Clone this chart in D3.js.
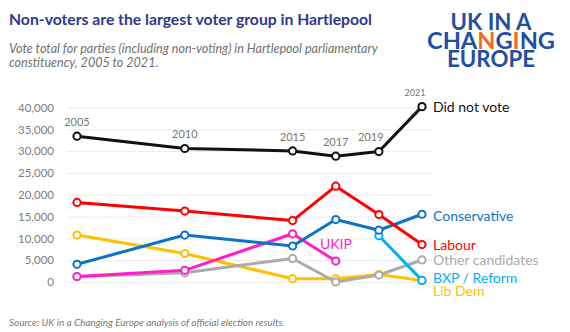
<!DOCTYPE html>
<html>
<head>
<meta charset="utf-8">
<script src="https://cdn.jsdelivr.net/npm/d3@7/dist/d3.min.js"></script>
<style>
  html, body { margin: 0; padding: 0; background: #fff; }
  svg { display: block; font-family: Lato, "Open Sans", sans-serif; }
</style>
</head>
<body>
<svg id="chart" width="570" height="332"></svg>
<script>
// Election years and vote totals, Hartlepool constituency
const years = [2005, 2010, 2015, 2017, 2019, 2021];
const didNotVote   = [33430, 30600, 30050, 28850, 29900, 40200];
const labour       = [18251, 16267, 14076, 21969, 15464, 8589];
const conservative = [4058, 10758, 8256, 14319, 11869, 15529];
const libDem       = [10773, 6533, 761, 746, 1696, 349];
const ukip         = [1256, 2682, 11052, 4801, null, null];
const others       = [1200, 2100, 5400, 0, 1600, 5050];
const bxpReform    = [null, null, null, null, 10603, 368];
const yTicks = [0, 5000, 10000, 15000, 20000, 25000, 30000, 35000, 40000];

const seriesNames  = ["Lib Dem", "Other candidates", "BXP / Reform", "UKIP", "Conservative", "Labour", "Did not vote"];
const seriesValues = [libDem, others, bxpReform, ukip, conservative, labour, didNotVote];
const seriesColors = ["#ffc000", "#ababab", "#00b0f0", "#ff1fc8", "#0b74c8", "#ff0000", "#111111"];

const svg = d3.select("#chart");
svg.append("rect").attr("width", 570).attr("height", 332).attr("fill", "#fff");

// Fit a text or tspan element to a target width by scaling its font size
function fitWidth(sel, target) {
  const node = sel.node();
  const size = parseFloat(sel.attr("font-size"));
  const len = node.getComputedTextLength();
  if (len > 0) sel.attr("font-size", (size * target / len).toFixed(2));
  return sel;
}

// Heading
fitWidth(svg.append("text")
  .attr("x", 9).attr("y", 25)
  .attr("font-size", 16).attr("font-weight", 700)
  .attr("fill", "#2e3a8c")
  .text("Non-voters are the largest voter group in Hartlepool"), 363);

const sub = svg.append("text")
  .attr("font-style", "italic")
  .attr("fill", "#707070");
const sub1 = sub.append("tspan").attr("x", 9).attr("y", 53).attr("font-size", 12)
  .text("Vote total for parties (including non-voting) in Hartlepool parliamentary");
fitWidth(sub1, 369);
sub.append("tspan").attr("x", 9).attr("y", 67).attr("font-size", sub1.attr("font-size"))
  .text("constituency, 2005 to 2021.");

// Logo wordmark, three stacked lines in one text block
const logoBlue = "#1f4ea6", logoOrange = "#f26a21";
const logo = svg.append("text").attr("font-weight", 700).attr("text-anchor", "middle").attr("fill", logoBlue);
fitWidth(logo.append("tspan").attr("x", 491).attr("y", 30).attr("font-size", 20).text("UK IN A"), 81);
const ch = logo.append("tspan").attr("x", 491).attr("y", 48.5).attr("font-size", 20);
"CHANGING".split("").forEach((c, i) => {
  ch.append("tspan").attr("fill", (i === 3 || i === 5) ? logoOrange : logoBlue).text(c);
});
fitWidth(ch, 128);
fitWidth(logo.append("tspan").attr("x", 491).attr("y", 67).attr("font-size", 20).text("EUROPE"), 88);

// Scales
const x = d3.scaleLinear().domain([2005, 2021]).range([77, 422]);
const y = d3.scaleLinear().domain([0, 40000]).range([282, 107.5]);

// Gridlines and y axis
const yAxis = d3.axisLeft(y).tickValues(yTicks).tickSize(-365).tickFormat(d3.format(","));
const gy = svg.append("g").attr("transform", "translate(67,0)").call(yAxis);
gy.select(".domain").remove();
gy.selectAll(".tick line").attr("stroke", "#ebebeb").attr("stroke-width", 1);
gy.selectAll(".tick text")
  .attr("x", -13).attr("fill", "#7d7d7d")
  .attr("font-size", 11.5).attr("font-family", "Lato, sans-serif");

// Lines and markers
const line = d3.line()
  .defined(d => d.v !== null)
  .x(d => x(d.year)).y(d => y(d.v));

seriesNames.forEach((name, si) => {
  const pts = years.map((yr, i) => ({ year: yr, v: seriesValues[si][i] }));
  const g = svg.append("g");
  g.append("path").datum(pts)
    .attr("d", line)
    .attr("fill", "none")
    .attr("stroke", seriesColors[si])
    .attr("stroke-width", 3)
    .attr("stroke-linejoin", "round");
  g.selectAll("circle").data(pts.filter(d => d.v !== null)).join("circle")
    .attr("cx", d => x(d.year)).attr("cy", d => y(d.v))
    .attr("r", 3.6)
    .attr("fill", "#fff")
    .attr("stroke", seriesColors[si])
    .attr("stroke-width", 2);
});

// Year labels above the non-voter line
const yearShift = { 2019: -8, 2021: -7 };
svg.append("g").selectAll("text").data(years).join("text")
  .attr("x", (d) => x(d) + (yearShift[d] || 0))
  .attr("y", (d, i) => y(didNotVote[i]) - 14)
  .attr("dy", "0.35em")
  .attr("text-anchor", "middle")
  .attr("font-size", d => d === 2021 ? 9 : 11)
  .attr("fill", "#777")
  .text(d => d);

// Series labels at the line ends
const last = years.length - 1;
const endLabels = [
  { name: "Did not vote", values: didNotVote, color: "#111111", dy: 0 },
  { name: "Conservative", values: conservative, color: "#0b74c8", dy: 1.5 },
  { name: "Labour", values: labour, color: "#ff0000", dy: 1 },
  { name: "Other candidates", values: others, color: "#ababab", dy: 0.5 },
  { name: "BXP / Reform", values: bxpReform, color: "#00b0f0", dy: -2.5 },
  { name: "Lib Dem", values: libDem, color: "#ffc000", dy: 10.5 }
];
svg.append("g").selectAll("text").data(endLabels).join("text")
  .attr("x", 433)
  .attr("y", d => y(d.values[last]) + d.dy)
  .attr("dy", "0.35em")
  .attr("font-size", 14)
  .attr("fill", d => d.color)
  .text(d => d.name);

svg.append("text")
  .attr("x", 320).attr("y", 244).attr("dy", "0.35em")
  .attr("font-size", 14).attr("fill", "#ff1fc8")
  .text("UKIP");

// Source note
fitWidth(svg.append("text")
  .attr("x", 9).attr("y", 326)
  .attr("font-size", 9.5).attr("font-style", "italic")
  .attr("fill", "#777")
  .text("Source: UK in a Changing Europe analysis of official election results."), 276);
</script>
</body>
</html>
